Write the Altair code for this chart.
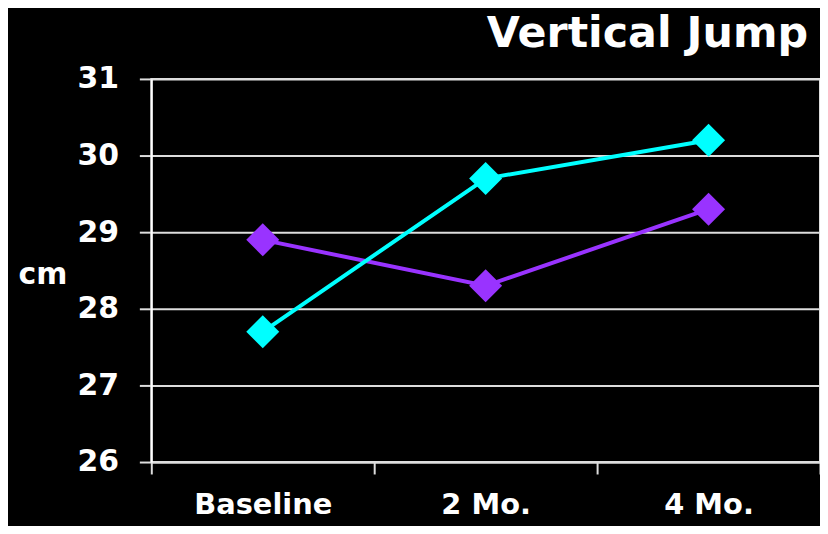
import altair as alt
import pandas as pd

categories = ["Baseline", "2 Mo.", "4 Mo."]
series_a = [28.9, 28.3, 29.3]   # purple
series_b = [27.7, 29.7, 30.2]   # cyan
series_names = ["Group A", "Group B"]
series_colors = ["#9933FF", "#00FFFF"]
y_ticks = [26, 27, 28, 29, 30, 31]

rows = []
for name, vals in zip(series_names, [series_a, series_b]):
    for c, v in zip(categories, vals):
        rows.append({"period": c, "cm": v, "series": name})
df = pd.DataFrame(rows)

FONT = "DejaVu Sans"

x_enc = alt.X("period:N", sort=categories,
              scale=alt.Scale(paddingInner=0, paddingOuter=0),
              axis=alt.Axis(title=None, labelAngle=0, tickBand="extent",
                            tickSize=12, tickColor="#dddddd", tickWidth=2,
                            domainColor="#dddddd", domainWidth=2,
                            labelFont=FONT, labelFontSize=29, labelFontWeight="bold",
                            labelColor="white", labelPadding=17, grid=False))
y_enc = alt.Y("cm:Q", scale=alt.Scale(domain=[26, 31], nice=False, zero=False),
              axis=alt.Axis(values=y_ticks, title="cm", titleAngle=0,
                            titleAlign="left", titleBaseline="middle",
                            titleX=-134, titleY=197,
                            titleFont=FONT, titleFontSize=30, titleFontWeight="bold",
                            titleColor="white",
                            tickSize=12, tickColor="#dddddd", tickWidth=2,
                            domainColor="white", domainWidth=2,
                            labelFont=FONT, labelFontSize=30, labelFontWeight="bold",
                            labelColor="white", labelPadding=21,
                            grid=True, gridColor="#dddddd", gridWidth=2))
color_enc = alt.Color("series:N", scale=alt.Scale(domain=series_names, range=series_colors),
                      legend=None)

layers = []
for name in series_names:
    sub = df[df["series"] == name]
    layers.append(alt.Chart(sub).encode(x=x_enc, y=y_enc, color=color_enc).mark_line(strokeWidth=4))
    layers.append(alt.Chart(sub).encode(x=x_enc, y=y_enc, color=color_enc)
                  .mark_point(shape="diamond", filled=True, size=1100, opacity=1))

chart = alt.layer(*layers).properties(
    width=672, height=385,
    background="black",
    autosize=alt.AutoSizeParams(type="none"),
    padding={"left": 144, "top": 70, "right": 0, "bottom": 63},
    title=alt.TitleParams("Vertical Jump", anchor="end", frame="group",
                          font=FONT, fontSize=43, fontWeight="bold", color="white",
                          baseline="alphabetic", offset=0, dx=-12, dy=26),
).configure_view(stroke="#dddddd", strokeWidth=2)

chart.save("out.html", embed_options={"renderer": "svg", "actions": False})
